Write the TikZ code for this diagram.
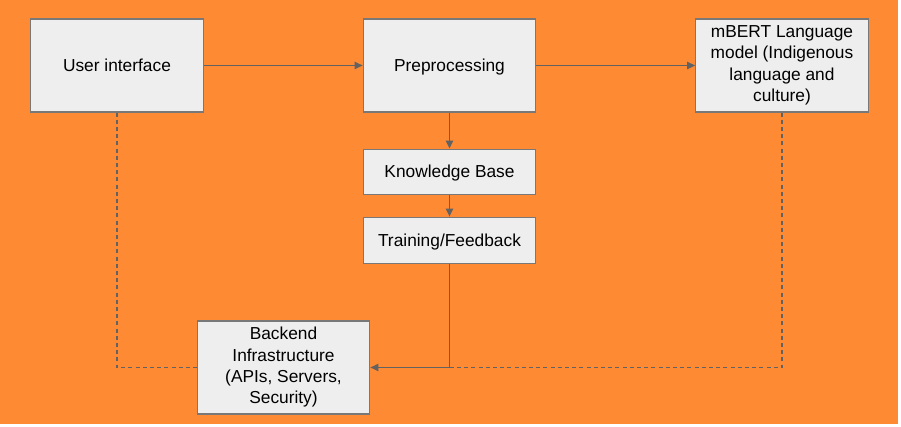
\documentclass[tikz,border=0pt]{standalone}
\usepackage{fontspec}
\setmainfont{Liberation Sans}
\usetikzlibrary{arrows.meta,positioning}
\definecolor{bgorange}{RGB}{255,138,52}
\definecolor{boxfill}{RGB}{238,238,238}
\definecolor{boxline}{RGB}{120,120,120}
\definecolor{arrcol}{RGB}{98,98,98}

\begin{document}
\begin{tikzpicture}[
    x=0.75pt, y=-0.75pt,
    >={Triangle[length=6pt,width=5.5pt]},
    block/.style={draw=boxline, fill=boxfill, line width=0.8pt,
                  minimum width=129.5pt, minimum height=#1,
                  align=center, inner sep=2pt,
                  font=\fontsize{13}{16}\selectfont,
                  execute at begin node={\rule{0pt}{11.8pt}},
                  execute at end node={\rule[-2.8pt]{0pt}{2.8pt}}},
    block/.default=69.75pt,
    arr/.style={->, line width=1pt, color=arrcol},
    dashline/.style={line width=1pt, color=arrcol, dash pattern=on 3pt off 2.4pt},
    node distance=0pt,
]

% background
\useasboundingbox (0,0) rectangle (901,427);
\fill[bgorange] (0,0) rectangle (898,424);

% ============ TOP ROW ============
\node[block] (ui) at (117,65.5) {User interface};
\node[block] (prep) at (449.5,65.5) {Preprocessing};
\node[block] (mbert) at (782,65.5)
  {mBERT Language\\model (Indigenous\\language and\\culture)};

% ============ MIDDLE COLUMN ============
\node[block=33.75pt, below=27pt of prep] (kb) {Knowledge Base};
\node[block=34.5pt, below=16.5pt of kb] (train) {Training/Feedback};

% ============ BACKEND ============
\node[block] (back) at (283.5,367.5)
  {Backend\\Infrastructure\\(APIs, Servers,\\Security)};

% ============ CONNECTORS ============
\draw[arr] (ui) -- (prep);
\draw[arr] (prep) -- (mbert);
\draw[arr] (prep) -- (kb);
\draw[arr] (kb) -- (train);

\coordinate (jn) at (train.south |- back.east);
\draw[arr] (train) |- (back);
\draw[dashline] (ui) |- (back);
\draw[dashline] (mbert) |- (jn);

\end{tikzpicture}
\end{document}
